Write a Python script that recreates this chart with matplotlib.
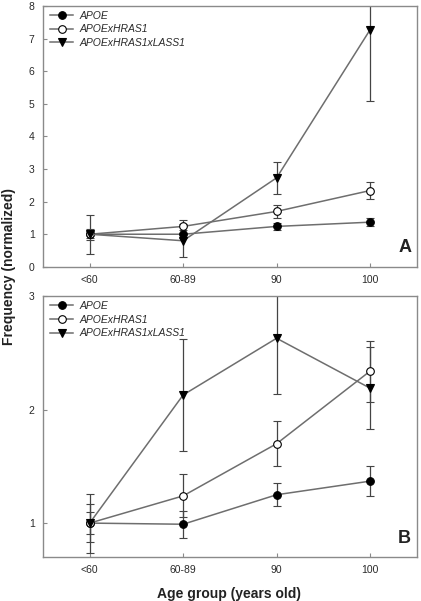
import numpy as np
import matplotlib
matplotlib.use("Agg")
import matplotlib.pyplot as plt
from matplotlib.lines import Line2D

plt.rcParams['font.family'] = ['Liberation Sans', 'DejaVu Sans']

groups = ["<60", "60-89", "90", "100"]
labels = ["APOE", "APOExHRAS1", "APOExHRAS1xLASS1"]

# panel A
apoe_a = [1.0, 1.0, 1.24, 1.37]
apoe_a_err = [0.10, 0.12, 0.10, 0.13]
hras_a = [1.0, 1.24, 1.70, 2.34]
hras_a_err = [0.17, 0.19, 0.20, 0.27]
lass_a = [1.0, 0.80, 2.73, 7.27]
lass_a_err = [0.60, 0.50, 0.49, 2.18]

# panel B
apoe_b = [1.0, 0.99, 1.25, 1.37]
apoe_b_err = [0.10, 0.12, 0.10, 0.13]
hras_b = [1.0, 1.24, 1.70, 2.34]
hras_b_err = [0.17, 0.19, 0.20, 0.27]
lass_b = [1.0, 2.13, 2.63, 2.19]
lass_b_err = [0.26, 0.49, 0.49, 0.36]

frame_c = "#8a8a8a"
line_c = "#6e6e6e"
err_c = "#444444"
text_c = "#2a2a2a"

markers = [dict(marker='o', mfc='black', mec='black'),
           dict(marker='o', mfc='white', mec='black'),
           dict(marker='v', mfc='black', mec='black')]


def draw_panel(ax, series, errs, ylim, yticks, letter):
    x = np.arange(len(groups))
    handles = []
    for vals, err, lab, mk in zip(series, errs, labels, markers):
        ax.errorbar(x, vals, yerr=err, color=line_c, ecolor=err_c, elinewidth=0.9,
                    capsize=3, capthick=0.9, lw=1.1, ms=5.5, mew=0.8, **mk)
        handles.append(Line2D([], [], color=line_c, lw=1.1, ms=5.5, mew=0.8,
                              label=lab, **mk))
    ax.set_xlim(-0.5, 3.5)
    ax.set_ylim(*ylim)
    ax.set_yticks(yticks)
    ax.set_xticks(x)
    ax.set_xticklabels(groups)
    ax.tick_params(direction='in', length=3, width=0.8, colors=frame_c,
                   labelcolor=text_c, labelsize=7.5, pad=6)
    for s in ax.spines.values():
        s.set_color(frame_c)
        s.set_linewidth(1.0)
    leg = ax.legend(handles=handles, loc='upper left', frameon=False, fontsize=7.5,
                    handlelength=2.2, handletextpad=0.6, labelspacing=0.35,
                    borderaxespad=0.3, bbox_to_anchor=(0.0, 1.01))
    for t in leg.get_texts():
        t.set_fontstyle('italic')
        t.set_color(text_c)
    ax.text(0.985, 0.04, letter, transform=ax.transAxes, ha='right', va='bottom',
            fontsize=13, fontweight='bold', color='#222222')


fig = plt.figure(figsize=(4.21, 6.01), dpi=100)
ax_a = fig.add_axes([0.102, 0.556, 0.888, 0.434])
ax_b = fig.add_axes([0.102, 0.073, 0.888, 0.434])

draw_panel(ax_a, [apoe_a, hras_a, lass_a], [apoe_a_err, hras_a_err, lass_a_err],
           (0, 8), range(0, 9), "A")
draw_panel(ax_b, [apoe_b, hras_b, lass_b], [apoe_b_err, hras_b_err, lass_b_err],
           (0.7, 3), [1, 2, 3], "B")

fig.text(0.022, 0.556, "Frequency (normalized)", rotation=90, ha='center', va='center',
         fontsize=10, fontweight='bold', color='#222222')
fig.text(0.545, 0.012, "Age group (years old)", ha='center', va='center',
         fontsize=10, fontweight='bold', color='#222222')

fig.savefig("out.png", dpi=100)
